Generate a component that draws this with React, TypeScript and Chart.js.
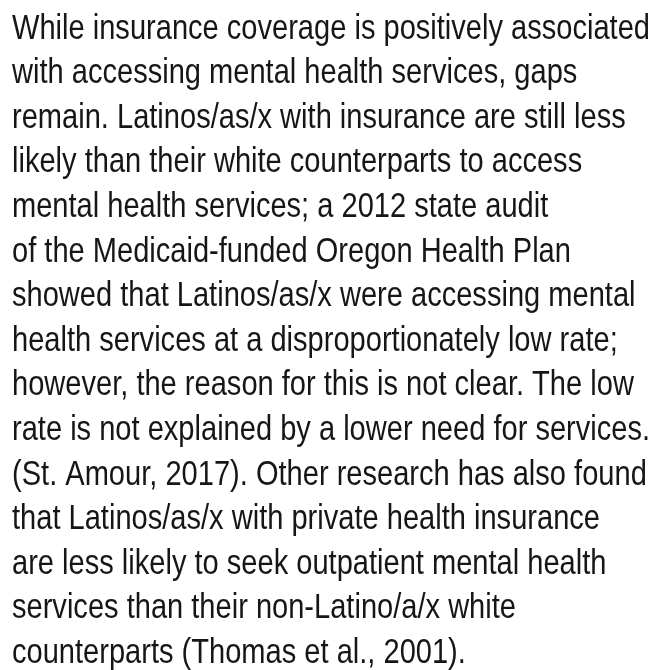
import React, { useEffect, useRef } from "react";
import { Chart, registerables } from "chart.js";

Chart.register(...registerables);

const textLines: string[] = [
  "While insurance coverage is positively associated",
  "with accessing mental health services, gaps",
  "remain. Latinos/as/x with insurance are still less",
  "likely than their white counterparts to access",
  "mental health services; a 2012 state audit",
  "of the Medicaid-funded Oregon Health Plan",
  "showed that Latinos/as/x were accessing mental",
  "health services at a disproportionately low rate;",
  "however, the reason for this is not clear. The low",
  "rate is not explained by a lower need for services.",
  "(St. Amour, 2017). Other research has also found",
  "that Latinos/as/x with private health insurance",
  "are less likely to seek outpatient mental health",
  "services than their non-Latino/a/x white",
  "counterparts (Thomas et al., 2001).",
];

const categories: string[] = [];
const values: number[] = [];

const paragraphPlugin = {
  id: "paragraph",
  afterDraw(chart: any) {
    const ctx = chart.ctx as CanvasRenderingContext2D;
    ctx.save();
    ctx.font = "35px 'Liberation Sans', Arial, sans-serif";
    ctx.fillStyle = "#161616";
    ctx.textBaseline = "alphabetic";
    ctx.textAlign = "left";
    const firstWidth = ctx.measureText(textLines[0]).width;
    const sx = 638 / firstWidth;
    const left = 12;
    const firstBaseline = 38.5;
    const step = 44.6;
    textLines.forEach((line, i) => {
      ctx.save();
      ctx.translate(left, firstBaseline + i * step);
      ctx.scale(sx, 1);
      ctx.fillText(line, 0, 0);
      ctx.restore();
    });
    ctx.restore();
  },
};

export default function App() {
  const ref = useRef<HTMLCanvasElement | null>(null);
  useEffect(() => {
    document.body.style.margin = "0";
    document.body.style.background = "#ffffff";
    if (!ref.current) return;
    const chart = new Chart(ref.current, {
      type: "bar",
      data: { labels: categories, datasets: [{ data: values }] },
      options: {
        animation: false,
        responsive: false,
        scales: { x: { display: false }, y: { display: false } },
        plugins: {
          legend: { display: false },
          tooltip: { enabled: false },
          title: { display: false },
        },
      },
      plugins: [paragraphPlugin],
    });
    return () => chart.destroy();
  }, []);
  return (
    <div style={{ width: 657, height: 670, background: "#fff" }}>
      <canvas ref={ref} width={657} height={670} />
    </div>
  );
}
